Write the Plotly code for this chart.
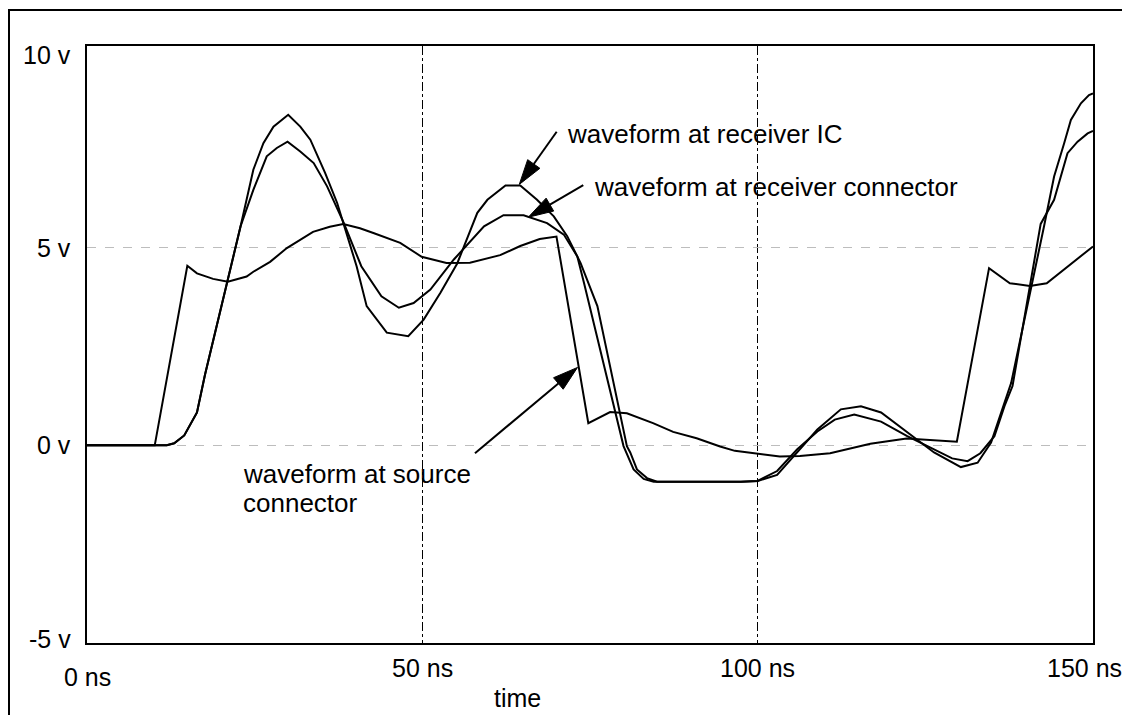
import plotly.graph_objects as go

# ---------------- data ----------------
src_t = [0, 10.1, 14.96, 16.4, 18.8, 21.0, 23.8, 24.8, 27.3, 29.8, 33.7, 36.2, 38.2,
         40.7, 42.7, 46.7, 49.9, 53.6, 57.1, 61.6, 64.6, 67.5, 70.0, 74.75, 78.0,
         80.5, 84.4, 87.4, 90.9, 94.4, 96.6, 100.0, 103.3, 106.3, 110.8, 116.8,
         122.2, 129.7, 134.5, 137.6, 140.6, 143.1, 145.6, 147.6, 150.0]
src_v = [0, 0, 4.54, 4.35, 4.21, 4.14, 4.27, 4.39, 4.64, 4.99, 5.40, 5.53, 5.60,
         5.49, 5.37, 5.12, 4.77, 4.61, 4.62, 4.81, 5.04, 5.22, 5.28, 0.56, 0.84,
         0.81, 0.56, 0.34, 0.18, -0.03, -0.14, -0.22, -0.28, -0.27, -0.20, 0.04,
         0.17, 0.09, 4.48, 4.10, 4.03, 4.10, 4.43, 4.69, 5.03]

ic_t = [0, 11.9, 13.0, 14.5, 16.4, 17.6, 22.9, 24.8, 26.3, 27.8, 30.0, 31.8, 33.3,
        35.5, 37.3, 40.2, 41.7, 44.7, 47.9, 50.2, 52.7, 55.2, 58.2, 59.7, 62.4,
        64.6, 67.1, 69.6, 71.6, 73.6, 76.1, 80.5, 81.0, 82.0, 83.5, 85.0, 97.5,
        100.0, 102.9, 105.9, 108.9, 112.4, 115.4, 118.4, 122.3, 126.3, 130.3,
        132.8, 134.8, 136.3, 137.8, 142.7, 144.2, 145.7, 146.7, 148.2, 149.4, 150.0]
ic_v = [0, 0, 0.05, 0.25, 0.83, 1.79, 5.54, 6.97, 7.64, 8.06, 8.36, 8.06, 7.73,
        6.89, 6.13, 4.53, 3.52, 2.85, 2.76, 3.18, 3.86, 4.60, 5.88, 6.21, 6.57,
        6.57, 6.21, 5.79, 5.29, 4.61, 3.52, -0.02, -0.18, -0.61, -0.83, -0.92, -0.92,
        -0.90, -0.75, -0.18, 0.40, 0.91, 0.99, 0.83, 0.32, -0.18, -0.55,
        -0.44, 0.07, 0.83, 1.58, 5.54, 6.80, 7.64, 8.23, 8.65, 8.86, 8.90]

con_t = [0, 11.9, 13.0, 14.5, 16.4, 17.6, 22.9, 24.8, 26.8, 28.3, 29.9, 31.8, 33.8,
         35.8, 38.3, 40.9, 43.9, 46.5, 48.7, 51.2, 54.7, 59.2, 62.1, 65.1, 68.6,
         71.1, 73.1, 74.1, 80.0, 81.5, 83.0, 84.5, 97.5, 100.0, 102.9, 105.9, 108.9,
         111.5, 114.4, 118.4, 122.3, 126.3, 129.0, 131.3, 133.2, 135.3, 136.8, 138.0,
         142.2, 144.2, 146.2, 147.7, 149.2, 150.0]
con_v = [0, 0, 0.05, 0.25, 0.83, 1.79, 5.54, 6.46, 7.31, 7.52, 7.68, 7.43, 7.14,
         6.55, 5.62, 4.53, 3.77, 3.48, 3.60, 3.94, 4.70, 5.54, 5.82, 5.82, 5.62,
         5.33, 4.78, 4.11, -0.02, -0.61, -0.85, -0.92, -0.92, -0.90, -0.65, -0.10, 0.35,
         0.65, 0.78, 0.60, 0.23, -0.10, -0.33, -0.40, -0.20, 0.23, 0.99, 1.50,
         5.60, 6.21, 7.39, 7.68, 7.89, 7.95]

x_tick_vals = [0, 50, 100, 150]
x_tick_text = ["0 ns", "50 ns", "100 ns", "150 ns"]
y_tick_vals = [-5, 0, 5, 10]
y_tick_text = ["-5 v", "0 v", "5 v", "10 v"]
x_grid_vals = [50, 100]
y_grid_vals = [0, 5]
x_title = "time"

labels = ["waveform at receiver IC", "waveform at receiver connector",
          "waveform at source", "connector"]

# ---------------- layout geometry ----------------
# page body has an 8px margin, so the figure starts at (8, 8) in the window;
# keep the figure small enough that the page never overflows the window
W, H = 1114, 707
ML, MT = 79, 38
PW, PH = 1006, 597
MR, MB = W - ML - PW, H - MT - PH
X_RANGE = [0, 150]
Y_RANGE = [-5, 10.1]
PX_T = PW / (X_RANGE[1] - X_RANGE[0])
PX_V = PH / (Y_RANGE[1] - Y_RANGE[0])

FONT = "Liberation Sans, Arial, Helvetica, sans-serif"
TICK_SIZE = 25
TEXT_SIZE = 26

fig = go.Figure()
for t, v in [(src_t, src_v), (ic_t, ic_v), (con_t, con_v)]:
    fig.add_trace(go.Scatter(x=t, y=v, mode="lines",
                             line=dict(color="black", width=2),
                             showlegend=False, hoverinfo="skip"))

annotations = []
# x tick labels (0 ns sits a little lower in the original; 150 ns nudged to stay on canvas)
x_tick_shift = [(0, -34), (0, -25), (0, -25), (-9, -25)]
for val, txt, (sx, sy) in zip(x_tick_vals, x_tick_text, x_tick_shift):
    annotations.append(dict(x=val, y=0, xref="x", yref="paper", text=txt,
                            showarrow=False, xanchor="center", yanchor="middle",
                            xshift=sx, yshift=sy,
                            font=dict(family=FONT, size=TICK_SIZE, color="black")))
y_tick_shift = [4, 0, 0, -5]
for val, txt, sh in zip(y_tick_vals, y_tick_text, y_tick_shift):
    annotations.append(dict(x=0, y=val, xref="paper", yref="y", text=txt,
                            showarrow=False, xanchor="right", yanchor="middle",
                            xshift=-14, yshift=sh,
                            font=dict(family=FONT, size=TICK_SIZE, color="black")))
annotations.append(dict(x=(517 - 8 - ML) / PW, y=0, xref="paper", yref="paper", text=x_title,
                        showarrow=False, xanchor="center", yanchor="middle", yshift=-55,
                        font=dict(family=FONT, size=TICK_SIZE, color="black")))

# callout texts (left-aligned)
text_pos = [(71.3, 7.87), (75.3, 6.53), (23.0, -0.72), (23.0, -1.46)]
for txt, (tx, ty) in zip(labels, text_pos):
    annotations.append(dict(x=tx, y=ty, xref="x", yref="y", text=txt, showarrow=False,
                            xanchor="left", yanchor="middle",
                            font=dict(family=FONT, size=TEXT_SIZE, color="black")))

# arrows: (tip, tail) in data coordinates
arrows = [((64.46, 6.60), (70.03, 7.93)),
          ((65.80, 5.77), (74.00, 6.58)),
          ((73.14, 1.97), (57.85, -0.20))]

shapes = []
HEAD_LEN, HEAD_HALF = 25, 7.5
for (tip, tail) in arrows:
    dx = (tail[0] - tip[0]) * PX_T
    dy = (tail[1] - tip[1]) * PX_V
    L = (dx * dx + dy * dy) ** 0.5
    ux, uy = dx / L, dy / L
    bx, by = ux * HEAD_LEN, uy * HEAD_LEN
    nx, ny = -uy * HEAD_HALF, ux * HEAD_HALF
    shapes.append(dict(type="line", xref="x", yref="y",
                       x0=tail[0], y0=tail[1],
                       x1=tip[0] + bx / PX_T, y1=tip[1] + by / PX_V,
                       line=dict(color="black", width=2)))
    path = (f"M0,0 L{bx + nx:.2f},{by + ny:.2f} "
            f"L{bx - nx:.2f},{by - ny:.2f} Z")
    shapes.append(dict(type="path", xref="x", yref="y",
                       xsizemode="pixel", ysizemode="pixel",
                       xanchor=tip[0], yanchor=tip[1], path=path,
                       fillcolor="black", line=dict(color="black", width=1)))

# outer frame of the figure (runs off the right and bottom edges)
shapes.append(dict(type="rect", xref="paper", yref="paper",
                   x0=-(ML - 1) / PW, x1=(W + 10 - ML) / PW,
                   y0=-(MB + 10) / PH, y1=(PH + MT - 2) / PH,
                   line=dict(color="black", width=2), fillcolor="rgba(0,0,0,0)",
                   layer="above"))

fig.update_layout(
    width=W, height=H,
    margin=dict(l=ML, r=MR, t=MT, b=MB),
    paper_bgcolor="white", plot_bgcolor="white",
    annotations=annotations, shapes=shapes,
    hovermode=False,
    xaxis=dict(range=X_RANGE, tickvals=x_grid_vals, showticklabels=False,
               ticks="", showgrid=True, gridcolor="black", gridwidth=1,
               griddash="dashdot", zeroline=False,
               showline=True, mirror=True, linecolor="black", linewidth=2),
    yaxis=dict(range=Y_RANGE, tickvals=y_grid_vals, showticklabels=False,
               ticks="", showgrid=True, gridcolor="#bdbdbd", gridwidth=1,
               griddash="dash", zeroline=False,
               showline=True, mirror=True, linecolor="black", linewidth=2),
)

fig.write_html("out.html")
